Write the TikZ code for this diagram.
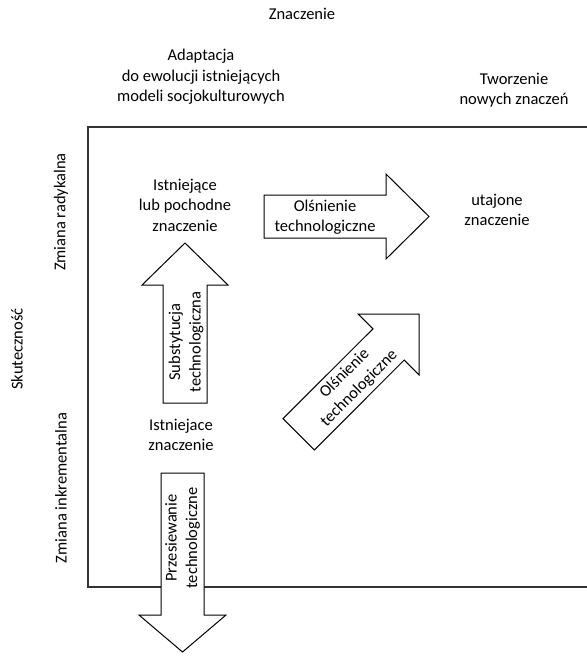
\documentclass[tikz,border=0pt]{standalone}
\usepackage{fontspec}
\setmainfont{Carlito}
\usepackage{tikz}

\begin{document}
\begin{tikzpicture}[x=1pt,y=-1pt]
  \tikzstyle{every node}=[font=\fontsize{16.5}{20.5}\selectfont,align=center,inner sep=0pt]
  \tikzstyle{bigarr}=[draw=black,fill=white,line width=1pt,line join=miter]
  \useasboundingbox (0,0) rectangle (587,657);
  % frame
  \draw[line width=1.4pt,draw=black!80] (587,127) -- (88,127) -- (88,587) -- (587,587);
  % arrows
  \draw[bigarr] (163,403) -- (163,285) -- (142,285) -- (185,243)
        -- (228,285) -- (207,285) -- (207,403) -- cycle;
  \draw[bigarr] (161,473) -- (161,615) -- (139,615) -- (182.5,652)
        -- (226,615) -- (204,615) -- (204,473) -- cycle;
  \draw[bigarr] (264,195) -- (386,195) -- (386,174) -- (429,216.5)
        -- (386,259) -- (386,238) -- (264,238) -- cycle;
  \draw[bigarr] (283,418.6) -- (373,328.8) -- (358.2,314) -- (419,314)
        -- (419,374.8) -- (404.2,360) -- (314.4,450) -- cycle;
  % labels
  \path (302,14) node (meaning) {Znaczenie};
  \path (201,77) node (adapt) {Adaptacja\\do ewolucji istniejących\\modeli socjokulturowych};
  \path (514,90) node (create) {Tworzenie\\nowych znaczeń};
  \path (17,349) node[rotate=90] (effect) {Skuteczność};
  \path (61,212) node[rotate=90] (radical) {Zmiana radykalna};
  \path (61,488) node[rotate=90] (increm) {Zmiana inkrementalna};
  \path (185,205) node (exist) {Istniejące\\lub pochodne\\znaczenie};
  \path (181,435) node (existb) {Istniejace\\znaczenie};
  \path (497,210) node (latent) {utajone\\znaczenie};
  \path (325,217) node (dazzle) {Olśnienie\\technologiczne};
  \path (186,342) node[rotate=90] (subst) {Substytucja\\technologiczna};
  \path (182.5,538) node[rotate=90] (sieve) {Przesiewanie\\technologiczne};
  \path (352,381) node[rotate=45] (dazzleb) {Olśnienie\\technologiczne};
\end{tikzpicture}
\end{document}
